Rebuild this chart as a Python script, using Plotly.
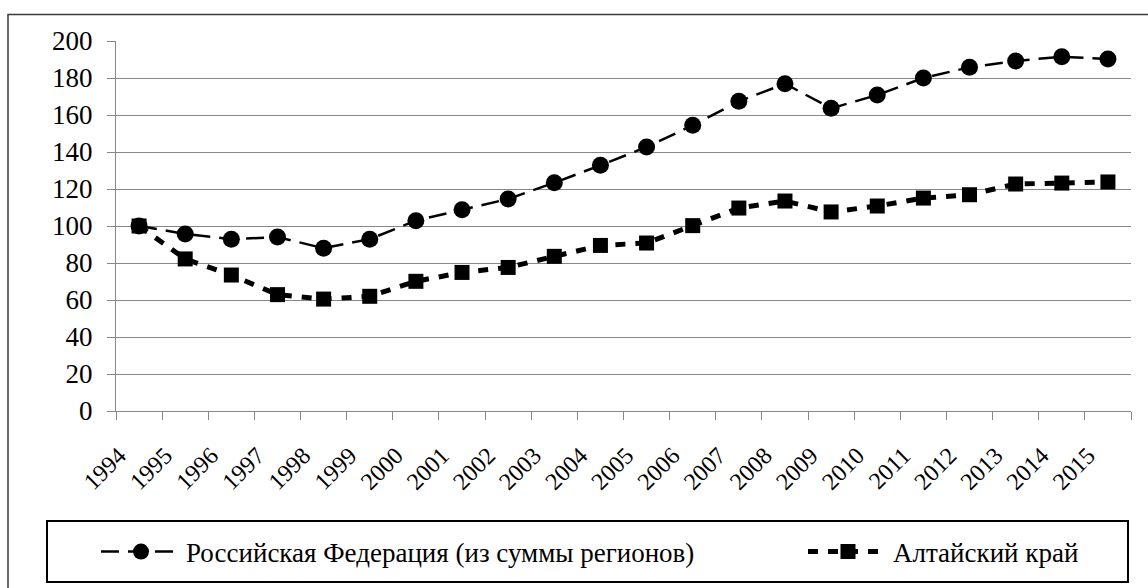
import plotly.graph_objects as go

years = [str(y) for y in range(1994, 2016)]
rf_values = [100, 95.7, 92.9, 94, 88, 92.9, 102.9, 108.8, 114.6, 123.4, 132.8,
             142.7, 154.4, 167.4, 176.9, 163.6, 170.8, 180, 185.8, 189.2, 191.5, 190.3]
altai_values = [100, 82.2, 73.5, 62.9, 60.5, 62, 70.1, 74.9, 77.6, 83.6, 89.5,
                90.8, 100.2, 109.7, 113.5, 107.6, 110.8, 115.1, 116.9, 122.7, 123.2, 123.8]
y_ticks = list(range(0, 201, 20))
rf_name = "Российская Федерация (из суммы регионов)"
altai_name = "Алтайский край"

W, H = 1148, 588
ML, MR, MT, MB = 116, 17, 41, 177
PW, PH = W - ML - MR, H - MT - MB


def px_x(x):
    return (x - ML) / PW


def px_y(y):
    return (H - MB - y) / PH


SERIF = "Liberation Serif"
GRID = "#878787"

fig = go.Figure()
fig.add_trace(go.Scatter(
    x=years, y=rf_values, name=rf_name, mode="lines+markers", legend="legend",
    line=dict(color="black", width=2.5, dash="18px,9px"),
    marker=dict(symbol="circle", size=17, color="black"),
))
fig.add_trace(go.Scatter(
    x=years, y=altai_values, name=altai_name, mode="lines+markers", legend="legend2",
    line=dict(color="black", width=5, dash="10px,10px"),
    marker=dict(symbol="square", size=15, color="black"),
))

fig.update_layout(
    width=W, height=H,
    margin=dict(l=ML, r=MR, t=MT, b=MB, autoexpand=False),
    paper_bgcolor="white", plot_bgcolor="white",
    font=dict(family=SERIF, color="black"),
    showlegend=True,
    legend=dict(
        orientation="h", x=px_x(96), xanchor="left", y=px_y(552), yanchor="middle",
        font=dict(family=SERIF, size=27, color="black"),
        bgcolor="rgba(0,0,0,0)", borderwidth=0, itemwidth=80,
    ),
    legend2=dict(
        orientation="h", x=px_x(803), xanchor="left", y=px_y(552), yanchor="middle",
        font=dict(family=SERIF, size=27, color="black"),
        bgcolor="rgba(0,0,0,0)", borderwidth=0, itemwidth=80,
    ),
    xaxis=dict(
        type="category", categoryorder="array", categoryarray=years,
        range=[-0.5, len(years) - 0.5], autorange=False,
        showline=True, linecolor=GRID, linewidth=1, automargin=False,
        ticks="outside", tickson="boundaries", ticklen=8, tickcolor=GRID, tickwidth=1,
        tickangle=-45, ticklabelstandoff=20, ticklabelshift=-20,
        tickfont=dict(family=SERIF, size=24, color="black"),
        showgrid=False, zeroline=False, fixedrange=True,
    ),
    yaxis=dict(
        range=[0, 200], tickvals=y_ticks, ticktext=[str(v) for v in y_ticks],
        showline=True, linecolor=GRID, linewidth=1, automargin=False,
        ticks="outside", ticklen=8, tickcolor=GRID, tickwidth=1,
        ticklabelstandoff=9,
        showgrid=True, gridcolor=GRID, gridwidth=1, zeroline=False,
        tickfont=dict(family=SERIF, size=27, color="black"), fixedrange=True,
    ),
    shapes=[
        dict(type="rect", xref="paper", yref="paper",
             x0=px_x(8), x1=px_x(1160), y0=px_y(600), y1=px_y(14.5),
             line=dict(color="#3a3a3a", width=1.5), fillcolor="rgba(0,0,0,0)", layer="below"),
        dict(type="rect", xref="paper", yref="paper",
             x0=px_x(47), x1=px_x(1128), y0=px_y(582), y1=px_y(521),
             line=dict(color="black", width=2), fillcolor="rgba(0,0,0,0)"),
    ],
)

fig.write_html(
    "out.html",
    config={"displayModeBar": False},
    post_script="document.body.style.margin='0';document.body.style.overflow='hidden';",
)
